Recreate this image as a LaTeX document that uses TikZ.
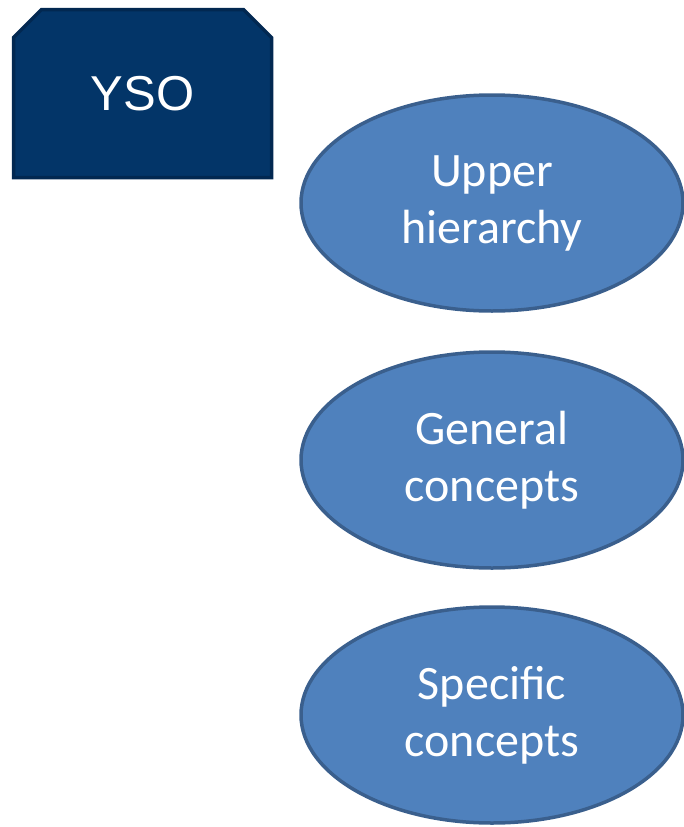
\documentclass[tikz,border=0pt]{standalone}
\usepackage{fontspec}
\setmainfont{Carlito}
\newfontfamily\arialfont{Liberation Sans}
\usetikzlibrary{shapes.geometric, shapes.misc}
\definecolor{ysonavy}{HTML}{033568}
\definecolor{ysoedge}{HTML}{022851}
\definecolor{levelblue}{HTML}{4F81BD}
\definecolor{leveledge}{HTML}{3A5F8D}

\begin{document}
\begin{tikzpicture}[x=1pt, y=-1pt]
	\useasboundingbox (0,0) rectangle (683,827);
	\begin{scope}[every node/.style={inner sep=0, text=white, align=center}]
	\node[chamfered rectangle, chamfered rectangle corners={north west, north east},
		chamfered rectangle xsep=14pt, chamfered rectangle ysep=14pt, line width=3.5pt,
		draw=ysoedge, fill=ysonavy, minimum width=258pt, minimum height=168pt,
		font=\arialfont\fontsize{49}{56}\selectfont] (yso) at (142.5,93.5) {YSO};

	\tikzset{level/.style={ellipse, draw=leveledge, fill=levelblue, line width=3.5pt, minimum width=382pt, minimum height=216pt, font=\fontsize{48}{57}\selectfont}}
	\node[level] (upper) at (492,203) {Upper\\hierarchy};
	\node[level] (general) at (492,460) {General\\concepts};
	\node[level] (specific) at (492,715) {Specific\\concepts};
	\end{scope}
\end{tikzpicture}
\end{document}
